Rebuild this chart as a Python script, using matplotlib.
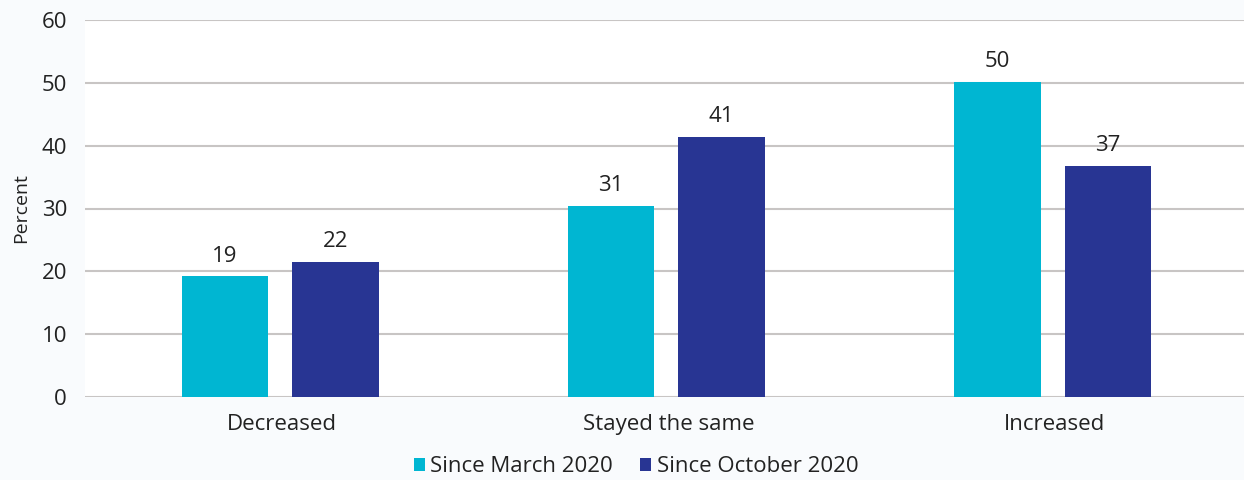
import numpy as np
import matplotlib.pyplot as plt

plt.rcParams['font.family'] = ['Open Sans', 'DejaVu Sans']

categories = ['Decreased', 'Stayed the same', 'Increased']
march = [19.2, 30.4, 50.2]
october = [21.5, 41.4, 36.8]
march_labels = ['19', '31', '50']
october_labels = ['22', '41', '37']

cyan = '#00b6d2'
navy = '#283593'
fs = 16

fig = plt.figure(figsize=(12.44, 4.8), dpi=100, facecolor='#f9fbfd')
ax = fig.add_axes([85 / 1244, 1 - 397 / 480, 1 - 85 / 1244, (397 - 20) / 480])
ax.set_facecolor('white')

x = np.arange(len(categories))
w = 0.224
off = 0.143
b1 = ax.bar(x - off + 0.005, march, w, color=cyan, label='Since March 2020', zorder=3)
b2 = ax.bar(x + off + 0.005, october, w, color=navy, label='Since October 2020', zorder=3)
ax.bar_label(b1, labels=march_labels, padding=7, fontsize=fs, color='#222222')
ax.bar_label(b2, labels=october_labels, padding=7, fontsize=fs, color='#222222')

ax.set_xlim(-0.5, 2.5)
ax.set_ylim(0, 60)
ax.set_yticks(range(0, 61, 10))
ax.set_xticks(x + 0.01)
ax.set_xticklabels(categories)
ax.tick_params(axis='both', length=0, labelsize=fs, colors='#222222')
ax.tick_params(axis='y', pad=13)
ax.tick_params(axis='x', pad=12)
ax.grid(axis='y', color='#c8c5c4', linewidth=1.5, zorder=0)
ax.set_axisbelow(True)
for s in ax.spines.values():
    s.set_visible(False)
ax.set_ylabel('Percent', fontsize=14, color='#222222')
ax.yaxis.set_label_coords(-0.047, 0.5)

leg = fig.legend(handles=[b1, b2], loc='center', bbox_to_anchor=(636 / 1244, 1 - 467 / 480),
                 ncol=2, frameon=False, fontsize=fs, handlelength=0.5, handleheight=0.5,
                 handletextpad=0.25, columnspacing=1.2)
for t in leg.get_texts():
    t.set_color('#222222')

fig.savefig('out.png', dpi=100, facecolor=fig.get_facecolor())
